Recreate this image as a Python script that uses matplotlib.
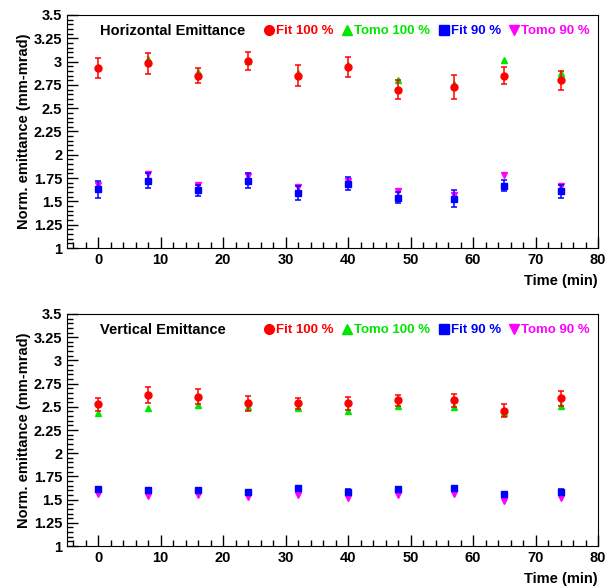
import matplotlib
matplotlib.use('Agg')
import matplotlib.pyplot as plt
from matplotlib.lines import Line2D
from matplotlib.ticker import MultipleLocator

plt.rcParams['font.family'] = ['Liberation Sans', 'DejaVu Sans']
plt.rcParams['font.weight'] = 'bold'

time_min = [0, 8, 16, 24, 32, 40, 48, 57, 65, 74]

# horizontal plane
h_fit100 = [2.93, 2.98, 2.85, 3.01, 2.85, 2.94, 2.70, 2.73, 2.85, 2.80]
h_fit100_err = [0.11, 0.11, 0.08, 0.095, 0.11, 0.11, 0.10, 0.13, 0.09, 0.10]
h_tomo100 = [2.94, 3.03, 2.89, 3.01, 2.88, 2.96, 2.80, 2.76, 3.02, 2.88]
h_fit90 = [1.63, 1.72, 1.62, 1.72, 1.59, 1.69, 1.54, 1.53, 1.67, 1.61]
h_fit90_err = [0.09, 0.08, 0.06, 0.08, 0.07, 0.07, 0.06, 0.09, 0.06, 0.07]
h_tomo90 = [1.68, 1.79, 1.68, 1.77, 1.65, 1.72, 1.61, 1.57, 1.78, 1.67]

# vertical plane
v_fit100 = [2.53, 2.63, 2.61, 2.54, 2.54, 2.54, 2.57, 2.57, 2.46, 2.59]
v_fit100_err = [0.07, 0.085, 0.08, 0.08, 0.06, 0.07, 0.06, 0.07, 0.07, 0.08]
v_tomo100 = [2.43, 2.49, 2.52, 2.50, 2.49, 2.45, 2.51, 2.50, 2.43, 2.51]
v_fit90 = [1.61, 1.60, 1.60, 1.58, 1.62, 1.58, 1.61, 1.63, 1.56, 1.58]
v_fit90_err = [0.03, 0.03, 0.03, 0.02, 0.02, 0.03, 0.03, 0.02, 0.02, 0.03]
v_tomo90 = [1.56, 1.54, 1.55, 1.53, 1.55, 1.52, 1.55, 1.56, 1.48, 1.52]

series_labels = ['Fit 100 %', 'Tomo 100 %', 'Fit 90 %', 'Tomo 90 %']
series_markers = ['o', '^', 's', 'v']
series_colors = ['#ff0000', '#00e600', '#0000ff', '#ff00ff']


def draw_panel(ax, title, fit100, fit100_err, tomo100, fit90, fit90_err, tomo90):
    ax.errorbar(time_min, fit100, yerr=fit100_err, fmt='o', color=series_colors[0],
                ms=5, capsize=2.5, elinewidth=1.1, capthick=1.1, zorder=3)
    ax.plot(time_min, tomo100, '^', color=series_colors[1], ms=5, zorder=2)
    ax.errorbar(time_min, fit90, yerr=fit90_err, fmt='s', color=series_colors[2],
                ms=4.5, capsize=2.5, elinewidth=1.1, capthick=1.1, zorder=3)
    ax.plot(time_min, tomo90, 'v', color=series_colors[3], ms=5, zorder=2)

    ax.set_xlim(-5, 80)
    ax.set_ylim(1, 3.5)
    ax.xaxis.set_major_locator(MultipleLocator(10))
    ax.xaxis.set_minor_locator(MultipleLocator(2))
    ax.yaxis.set_major_locator(MultipleLocator(0.25))
    ax.yaxis.set_minor_locator(MultipleLocator(0.05))
    ax.yaxis.set_major_formatter(plt.FuncFormatter(lambda v, p: ('%g' % v)))
    ax.tick_params(which='both', direction='in', top=False, right=False, labelsize=10.5)
    ax.tick_params(which='major', length=8, width=1)
    ax.tick_params(which='minor', length=4, width=1)
    for lab in ax.get_xticklabels() + ax.get_yticklabels():
        lab.set_fontweight('bold')
    ax.set_ylabel('Norm. emittance (mm-mrad)', fontsize=10.5, fontweight='bold', labelpad=2)
    ax.set_xlabel('Time (min)', fontsize=10.5, fontweight='bold', loc='right', labelpad=5)
    ax.text(0.062, 0.93, title, transform=ax.transAxes, fontsize=10.5, fontweight='bold',
            va='center', ha='left')
    handles = [Line2D([], [], ls='none', marker=m, color=c, ms=7)
               for m, c in zip(series_markers, series_colors)]
    leg = ax.legend(handles, series_labels, loc='upper right', bbox_to_anchor=(1.0, 0.99),
                    ncol=4, frameon=False, fontsize=9.5, handletextpad=0.0,
                    columnspacing=0.45, handlelength=1.1, borderaxespad=0.2)
    for txt, col in zip(leg.get_texts(), series_colors):
        txt.set_color(col)
        txt.set_fontweight('bold')


fig = plt.figure(figsize=(6.06, 5.88), dpi=100)
ax1 = fig.add_axes([67 / 606, 1 - 248 / 588, 531 / 606, 233 / 588])
ax2 = fig.add_axes([67 / 606, 1 - 546 / 588, 531 / 606, 232 / 588])

draw_panel(ax1, 'Horizontal Emittance', h_fit100, h_fit100_err, h_tomo100,
           h_fit90, h_fit90_err, h_tomo90)
draw_panel(ax2, 'Vertical Emittance', v_fit100, v_fit100_err, v_tomo100,
           v_fit90, v_fit90_err, v_tomo90)

fig.savefig('out.png', dpi=100)
